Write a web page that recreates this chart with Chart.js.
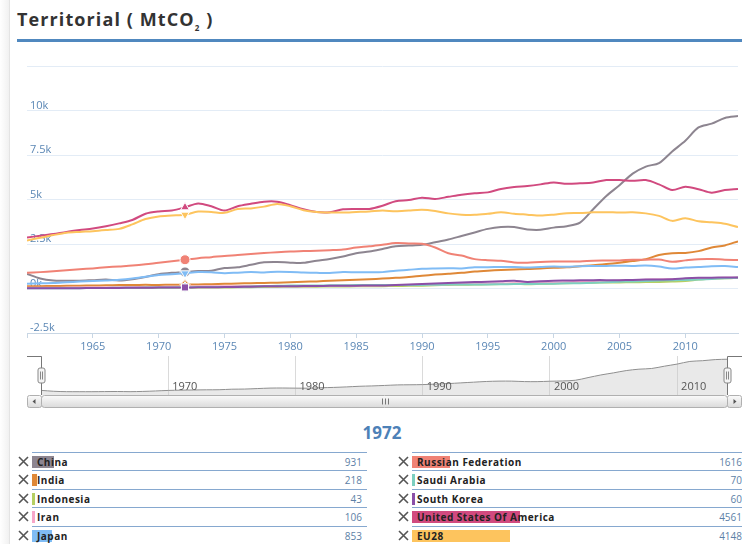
<!DOCTYPE html>
<html>
<head>
<meta charset="utf-8">
<title>Territorial (MtCO2)</title>
<script src="https://cdn.jsdelivr.net/npm/chart.js@4.4.1/dist/chart.umd.min.js"></script>
<style>
  body { margin: 0; width: 742px; height: 544px; overflow: hidden; background: #fff; position: relative; font-family: "Open Sans", sans-serif; }
  .edge { position: absolute; left: 0; top: 0; width: 9px; height: 544px; background: linear-gradient(to right, #fff, #f1f1f1); border-right: 1px solid #e4e4e4; }
  h1 { position: absolute; left: 17px; top: 6px; margin: 0; font-size: 18px; line-height: 26px; font-weight: bold; letter-spacing: 1.1px; color: #333; }
  h1 sub { font-size: 8px; line-height: 0; }
  .rule { position: absolute; left: 17px; right: 0; top: 39px; height: 3px; background: #5088bf; }
  canvas { position: absolute; left: 0; }
  #main { top: 50px; }
  #nav { top: 350px; }
  .year { position: absolute; left: 0; width: 764px; top: 421px; text-align: center; font-size: 17px; font-weight: bold; color: #4d81b7; }
  .row { position: absolute; width: 335px; height: 18px; border-top: 1px solid #86a8cf; }
  .bar { position: absolute; left: 0; top: 3px; height: 12px; }
  .name { position: absolute; left: 5px; top: 2px; font-size: 10px; line-height: 14px; font-weight: bold; letter-spacing: 0.5px; color: #222; white-space: nowrap; }
  .val { position: absolute; right: 5px; top: 2px; font-size: 10px; line-height: 14px; color: #5d7fa6; }
  .x { position: absolute; width: 11px; height: 11px; }
</style>
</head>
<body>
<div class="edge"></div>
<h1>Territorial ( MtCO<sub>2</sub> )</h1>
<div class="rule"></div>
<canvas id="main" width="742" height="300"></canvas>
<canvas id="nav" width="742" height="60"></canvas>
<div class="year" id="year"></div>
<div id="table"></div>
<script>
// years shown on the x axis
const years = [
  1960, 1961, 1962, 1963, 1964, 1965, 1966, 1967, 1968, 1969,
  1970, 1971, 1972, 1973, 1974, 1975, 1976, 1977, 1978, 1979,
  1980, 1981, 1982, 1983, 1984, 1985, 1986, 1987, 1988, 1989,
  1990, 1991, 1992, 1993, 1994, 1995, 1996, 1997, 1998, 1999,
  2000, 2001, 2002, 2003, 2004, 2005, 2006, 2007, 2008, 2009,
  2010, 2011, 2012, 2013, 2014,
]
const selectedYear = 1972

// territorial emissions, MtCO2
const china = [
  820, 560, 450, 440, 440, 470, 500, 450, 520, 650,
  800, 880, 931, 980, 1000, 1150, 1190, 1330, 1470, 1490,
  1450, 1440, 1560, 1660, 1800, 1980, 2080, 2220, 2370, 2410,
  2460, 2600, 2750, 2950, 3150, 3350, 3450, 3450, 3320, 3300,
  3420, 3500, 3700, 4450, 5200, 5800, 6450, 6850, 7050, 7700,
  8300, 9050, 9260, 9580, 9690,
]
const india = [
  120, 130, 140, 150, 160, 170, 180, 190, 200, 205,
  200, 210, 218, 230, 240, 260, 280, 300, 310, 330,
  350, 380, 400, 430, 460, 490, 520, 560, 600, 650,
  720, 780, 830, 880, 950, 1000, 1040, 1070, 1090, 1130,
  1160, 1190, 1250, 1300, 1370, 1450, 1540, 1650, 1880, 1980,
  2000, 2100, 2300, 2420, 2650,
]
const indonesia = [
  22, 22, 24, 22, 24, 25, 24, 25, 28, 32,
  36, 40, 43, 50, 55, 60, 65, 75, 85, 90,
  95, 100, 105, 110, 115, 120, 125, 130, 140, 150,
  160, 180, 200, 210, 220, 240, 250, 270, 240, 260,
  280, 300, 310, 330, 340, 340, 350, 360, 370, 390,
  420, 500, 560, 570, 600,
]
const iran = [
  40, 42, 45, 48, 52, 55, 60, 68, 75, 82,
  90, 98, 106, 118, 128, 130, 135, 145, 140, 125,
  120, 125, 140, 150, 155, 160, 170, 180, 190, 200,
  210, 220, 235, 250, 260, 270, 280, 290, 300, 315,
  330, 350, 370, 390, 410, 450, 470, 490, 510, 525,
  540, 560, 580, 600, 620,
]
const japan = [
  260, 290, 310, 350, 390, 420, 450, 490, 560, 660,
  760, 800, 853, 920, 910, 860, 890, 920, 900, 940,
  930, 900, 880, 870, 920, 910, 910, 920, 1000, 1050,
  1110, 1130, 1140, 1130, 1190, 1200, 1210, 1210, 1180, 1210,
  1230, 1220, 1250, 1260, 1270, 1280, 1270, 1290, 1230, 1120,
  1180, 1210, 1250, 1260, 1210,
]
const russia = [
  880, 920, 970, 1020, 1080, 1130, 1190, 1240, 1290, 1360,
  1450, 1530, 1616, 1700, 1760, 1830, 1880, 1940, 1990, 2040,
  2080, 2100, 2120, 2150, 2190, 2300, 2370, 2460, 2550, 2530,
  2510, 2300, 1980, 1850, 1650, 1590, 1560, 1460, 1450, 1490,
  1510, 1520, 1520, 1560, 1570, 1580, 1620, 1620, 1630, 1500,
  1580, 1650, 1660, 1620, 1600,
]
const saudi = [
  10, 12, 14, 17, 20, 30, 35, 40, 45, 50,
  55, 62, 70, 78, 80, 80, 95, 110, 130, 150,
  170, 175, 170, 180, 185, 190, 195, 195, 200, 200,
  200, 210, 220, 225, 230, 230, 240, 250, 250, 260,
  270, 290, 300, 320, 350, 380, 400, 420, 450, 470,
  480, 500, 540, 570, 600,
]
const korea = [
  12, 14, 16, 18, 20, 25, 30, 35, 40, 45,
  50, 55, 60, 65, 70, 80, 90, 100, 120, 130,
  130, 135, 140, 150, 155, 160, 165, 170, 200, 220,
  250, 280, 310, 340, 360, 380, 410, 440, 370, 410,
  440, 450, 460, 470, 470, 470, 480, 500, 510, 520,
  570, 600, 610, 620, 620,
]
const usa = [
  2870, 2960, 3060, 3180, 3280, 3370, 3500, 3660, 3850, 4200,
  4330, 4380, 4561, 4780, 4620, 4380, 4620, 4760, 4880, 4880,
  4680, 4450, 4300, 4290, 4450, 4470, 4470, 4650, 4900, 4970,
  5100, 5030, 5150, 5270, 5350, 5400, 5590, 5700, 5760, 5850,
  5960, 5880, 5910, 5960, 6090, 6090, 6050, 6090, 5850, 5530,
  5720, 5580, 5380, 5530, 5590,
]
const eu28 = [
  2700, 2850, 3000, 3130, 3180, 3220, 3280, 3350, 3600, 3900,
  4050, 4100, 4148, 4320, 4300, 4250, 4470, 4500, 4600, 4750,
  4620, 4400, 4300, 4270, 4270, 4300, 4330, 4380, 4340, 4380,
  4420, 4350, 4220, 4150, 4140, 4200, 4280, 4200, 4150, 4100,
  4150, 4230, 4240, 4280, 4290, 4270, 4280, 4220, 4080, 3800,
  3950, 3780, 3720, 3640, 3450,
]

const names = ["China", "India", "Indonesia", "Iran", "Japan",
  "Russian Federation", "Saudi Arabia", "South Korea", "United States Of America", "EU28"]
const values = [china, india, indonesia, iran, japan, russia, saudi, korea, usa, eu28]

const colors = ["#8d8590", "#df8837", "#b5cf63", "#f7a6c8", "#80bcf5",
  "#f08275", "#7ccfc0", "#8b4fa7", "#d14a7f", "#fdc45e"]
const symbols = ["circle", "rectRot", "rect", "triangle", "triangle",
  "circle", "rectRot", "rect", "triangle", "triangle"]
const rotations = [0, 0, 0, 0, 180, 0, 0, 0, 0, 180]

const tickBlue = "#5b87b5"
const selIndex = years.indexOf(selectedYear)

new Chart(document.getElementById("main"), {
  type: "line",
  data: {
    labels: years,
    datasets: values.map((data, i) => ({
      label: names[i],
      data,
      borderColor: colors[i],
      backgroundColor: colors[i],
      borderWidth: 2,
      tension: 0.3,
      order: values.length - i,
      pointStyle: symbols[i],
      rotation: rotations[i],
      pointRadius: (c) => (c.dataIndex === selIndex ? 5 : 0),
      pointBorderColor: "#fff",
      pointBorderWidth: 1,
    })),
  },
  options: {
    responsive: false,
    animation: false,
    events: [],
    layout: { padding: { left: 27, right: 4, top: 16, bottom: 0 } },
    plugins: { legend: { display: false }, tooltip: { enabled: false } },
    scales: {
      x: {
        type: "linear",
        min: 1960,
        max: 2014,
        afterFit: (s) => { s.height = 17 },
        grid: { drawOnChartArea: false, color: "#c8d6e4", tickLength: 5 },
        border: { color: "#c8d6e4" },
        ticks: {
          stepSize: 5,
          includeBounds: false,
          autoSkip: false,
          maxRotation: 0,
          padding: 2,
          color: tickBlue,
          font: { family: "Open Sans", size: 11 },
          callback: (v) => (v === 1960 ? "" : String(v)),
        },
      },
      y: {
        min: -2500,
        max: 12500,
        afterFit: (s) => { s.width = 0 },
        grid: { color: "#e3ecf6", drawTicks: false },
        border: { display: false },
        ticks: {
          stepSize: 2500,
          mirror: true,
          padding: 3,
          labelOffset: -5,
          color: tickBlue,
          font: { family: "Open Sans", size: 11 },
          callback: (v) => (v === 12500 ? "" : v / 1000 + "k"),
        },
      },
    },
  },
})

// labels inside the navigator, handles, outline and scrollbar
const navDecor = {
  id: "navDecor",
  afterDatasetsDraw(chart) {
    const { ctx, chartArea: a, scales } = chart
    ctx.save()
    ctx.fillStyle = "#555"
    ctx.font = '11px "Open Sans"'
    ctx.textBaseline = "middle"
    ctx.textAlign = "left"
    scales.x.ticks.forEach((t) => {
      if (t.value === 1960) return
      ctx.fillText(String(t.value), scales.x.getPixelForValue(t.value) + 4, a.bottom - 8)
    })
    ctx.restore()
  },
  afterDraw(chart) {
    const { ctx, chartArea: a } = chart
    const btn = 14
    const h = 13
    const mid = (a.top + a.bottom) / 2
    ctx.save()
    ctx.lineWidth = 1

    const grad = ctx.createLinearGradient(0, a.bottom, 0, a.bottom + h)
    grad.addColorStop(0, "#fcfcfc")
    grad.addColorStop(1, "#d9d9d9")
    const box = (x, y, w, hh, r) => {
      ctx.beginPath()
      ctx.roundRect(x, y, w, hh, r)
      ctx.fill()
      ctx.stroke()
    }
    ctx.fillStyle = grad
    ctx.strokeStyle = "#b0b0b0"
    box(a.left - btn + 0.5, a.bottom + 0.5, btn, h - 1, 2)
    box(a.right - 0.5, a.bottom + 0.5, btn, h - 1, 2)
    box(a.left + 0.5, a.bottom + 0.5, a.right - a.left - 1, h - 1, 3)

    // arrows
    const cy = a.bottom + h / 2
    ctx.fillStyle = "#555"
    let cx = a.left - btn / 2
    ctx.beginPath()
    ctx.moveTo(cx + 1.5, cy - 2.5); ctx.lineTo(cx + 1.5, cy + 2.5); ctx.lineTo(cx - 1.5, cy)
    ctx.fill()
    cx = a.right + btn / 2
    ctx.beginPath()
    ctx.moveTo(cx - 1.5, cy - 2.5); ctx.lineTo(cx - 1.5, cy + 2.5); ctx.lineTo(cx + 1.5, cy)
    ctx.fill()

    // grip
    cx = Math.round((a.left + a.right) / 2) + 0.5
    ctx.strokeStyle = "#777"
    ctx.beginPath()
    for (const dx of [-3, 0, 3]) {
      ctx.moveTo(cx + dx, cy - 3)
      ctx.lineTo(cx + dx, cy + 3)
    }
    ctx.stroke()

    // outline
    ctx.strokeStyle = "#777"
    ctx.beginPath()
    ctx.moveTo(a.left - btn, a.top + 0.5)
    ctx.lineTo(a.left + 0.5, a.top + 0.5)
    ctx.lineTo(a.left + 0.5, a.bottom)
    ctx.moveTo(a.right - 0.5, a.bottom)
    ctx.lineTo(a.right - 0.5, a.top + 0.5)
    ctx.lineTo(chart.width, a.top + 0.5)
    ctx.stroke()

    // handles
    for (const hx of [a.left + 0.5, a.right - 0.5]) {
      ctx.fillStyle = "#f4f4f4"
      ctx.strokeStyle = "#888"
      box(hx - 3.5, mid - 7.5, 7, 15, 2)
      ctx.beginPath()
      ctx.moveTo(hx - 1, mid - 4); ctx.lineTo(hx - 1, mid + 4)
      ctx.moveTo(hx + 1, mid - 4); ctx.lineTo(hx + 1, mid + 4)
      ctx.stroke()
    }
    ctx.restore()
  },
}

new Chart(document.getElementById("nav"), {
  type: "line",
  data: {
    labels: years,
    datasets: [{
      data: china,
      borderColor: "#8f8f8f",
      borderWidth: 1,
      backgroundColor: "rgba(200,200,200,0.4)",
      fill: "start",
      tension: 0.3,
      pointRadius: 0,
    }],
  },
  plugins: [navDecor],
  options: {
    responsive: false,
    animation: false,
    events: [],
    layout: { padding: { left: 41, right: 14, top: 6, bottom: 0 } },
    plugins: { legend: { display: false }, tooltip: { enabled: false } },
    scales: {
      x: {
        type: "linear",
        min: 1960,
        max: 2014,
        afterFit: (s) => { s.height = 15 },
        grid: { color: "#dadada", drawTicks: false },
        border: { display: false },
        ticks: { stepSize: 10, includeBounds: false, display: false },
      },
      y: { display: false, min: -500, max: 10600 },
    },
  },
})

// selected-year table
document.getElementById("year").textContent = selectedYear
const cross = '<svg class="x" viewBox="0 0 11 11"><path d="M1 1L10 10M10 1L1 10" stroke="#555" stroke-width="1.6"/></svg>'
const table = document.getElementById("table")
names.forEach((name, i) => {
  const col = i < 5 ? 0 : 1
  const top = Math.round(452 + (i % 5) * 18.4)
  const left = col ? 412 : 32
  const v = values[i][selIndex]
  const row = document.createElement("div")
  row.className = "row"
  row.style.left = left + "px"
  row.style.top = top + "px"
  row.innerHTML =
    `<div class="bar" style="width:${Math.max(3, v * 0.0236)}px;background:${colors[i]}"></div>` +
    `<div class="name">${name}</div><div class="val">${v}</div>`
  table.appendChild(row)
  const x = document.createElement("div")
  x.innerHTML = cross
  x.style.cssText = `position:absolute;left:${left - 14}px;top:${top + 4}px;width:11px;height:11px`
  table.appendChild(x)
})
</script>
</body>
</html>
